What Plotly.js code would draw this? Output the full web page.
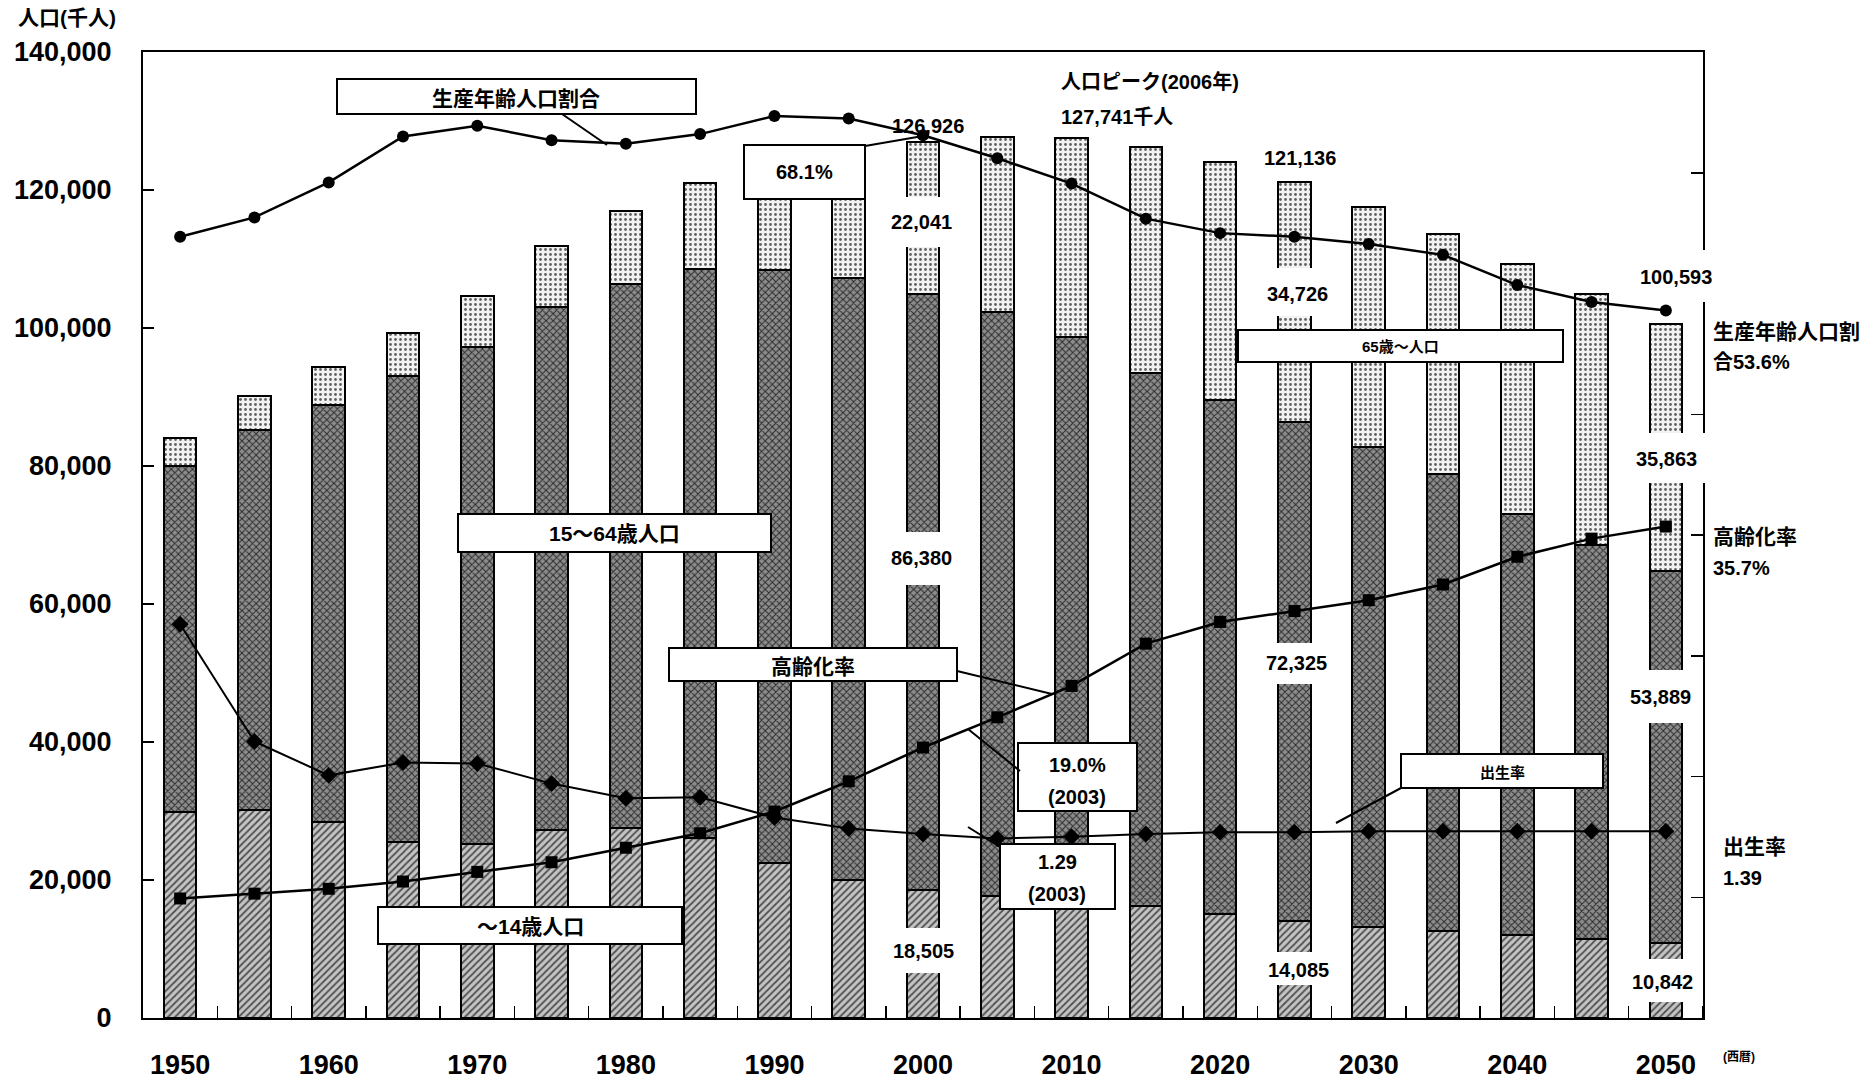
<!DOCTYPE html>
<html>
<head>
<meta charset="utf-8">
<script src="https://cdn.plot.ly/plotly-3.0.1.min.js"></script>
<style>html,body{margin:0;padding:0;background:#fff;}#chart{width:1873px;height:1088px;}</style>
</head>
<body>
<div id="chart"></div>
<script>
// ---- data (thousand persons / rates) ----
const years = [1950,1955,1960,1965,1970,1975,1980,1985,1990,1995,2000,2005,2010,2015,2020,2025,2030,2035,2040,2045,2050];
const pop0to14 = [29786,30123,28434,25529,25153,27221,27507,26033,22486,20014,18505,17727,17074,16197,15095,14085,13233,12567,11966,11411,10842];
const pop15to64 = [50168,55167,60469,67444,72119,75807,78835,82506,85904,87165,86380,84590,81665,77296,74453,72325,69576,66298,61040,57128,53889];
const pop65plus = [4155,4786,5398,6236,7393,8865,10647,12468,14895,18261,22041,25392,28735,32772,34559,34726,34770,34737,36332,36421,35863];
const workingAgeRatio = [59.7,61.3,64.2,68.0,68.9,67.7,67.4,68.2,69.7,69.5,68.1,66.2,64.1,61.2,60.0,59.7,59.1,58.2,55.7,54.3,53.6];
const agingRate = [4.9,5.3,5.7,6.3,7.1,7.9,9.1,10.3,12.1,14.6,17.4,19.9,22.5,26.0,27.8,28.7,29.6,30.9,33.2,34.7,35.7];
const fertilityRate = [3.65,2.37,2.00,2.14,2.13,1.91,1.75,1.76,1.54,1.42,1.36,1.31,1.33,1.36,1.38,1.38,1.39,1.39,1.39,1.39,1.39];
const xTickYears = [1950,1960,1970,1980,1990,2000,2010,2020,2030,2040,2050];

// ---- geometry helpers (pixel -> paper) ----
const L=143, R=1703, T=52, B=1018;
const px = x => (x-L)/(R-L);
const py = y => (B-y)/(B-T);
const NUM = "'Liberation Sans','Noto Sans CJK JP',Arial,sans-serif";
const JP = "'Noto Sans CJK JP','Liberation Sans',sans-serif";

function box(x0,y0,x1,y1){return {type:'rect',xref:'paper',yref:'paper',x0:px(x0),x1:px(x1),y0:py(y1),y1:py(y0),fillcolor:'white',line:{color:'black',width:2},layer:'above'};}
function bg(x0,y0,x1,y1){return {type:'rect',xref:'paper',yref:'paper',x0:px(x0),x1:px(x1),y0:py(y1),y1:py(y0),fillcolor:'white',line:{width:0},layer:'above'};}
function seg(x0,y0,x1,y1){return {type:'line',xref:'paper',yref:'paper',x0:px(x0),x1:px(x1),y0:py(y0),y1:py(y1),line:{color:'black',width:2},layer:'above'};}
function txt(t,x,y,size,anchor,fam){return {text:t,xref:'paper',yref:'paper',x:px(x),y:py(y),xanchor:anchor||'center',yanchor:'middle',showarrow:false,font:{family:fam||NUM,size:size,color:'black',weight:'bold'}};}

const barW = 2.2;
const traces = [
  {type:'bar',x:years,y:pop0to14,width:barW,name:'～14歳人口',
   marker:{color:'#bbb',line:{color:'black',width:2},pattern:{shape:'/',bgcolor:'#c4c4c4',fgcolor:'#505050',size:5,solidity:0.35}},hoverinfo:'y'},
  {type:'bar',x:years,y:pop15to64,width:barW,name:'15～64歳人口',
   marker:{color:'#666',line:{color:'black',width:2},pattern:{shape:'x',bgcolor:'#8c8c8c',fgcolor:'#2a2a2a',size:5,solidity:0.35}},hoverinfo:'y'},
  {type:'bar',x:years,y:pop65plus,width:barW,name:'65歳～人口',
   marker:{color:'#eee',line:{color:'black',width:2},pattern:{shape:'.',bgcolor:'#f2f2f2',fgcolor:'#606060',size:5,solidity:0.25}},hoverinfo:'y'},
  {type:'scatter',mode:'lines+markers',x:years,y:workingAgeRatio,yaxis:'y2',name:'生産年齢人口割合',
   line:{color:'black',width:2.5},marker:{symbol:'circle',size:12,color:'black'}},
  {type:'scatter',mode:'lines+markers',x:years,y:agingRate,yaxis:'y2',name:'高齢化率',
   line:{color:'black',width:2.5},marker:{symbol:'square',size:12,color:'black'}},
  {type:'scatter',mode:'lines+markers',x:years,y:fertilityRate,yaxis:'y3',name:'出生率',
   line:{color:'black',width:2},marker:{symbol:'diamond',size:13,color:'black'}}
];

const shapes = [
  // white gaps behind value labels
  bg(886,197,958,247), bg(884,532,958,585), bg(886,928,960,973),
  bg(1262,268,1334,316), bg(1260,643,1334,684), bg(1262,952,1334,985),
  bg(1634,250,1716,302), bg(1626,433,1708,483), bg(1624,670,1698,723), bg(1626,959,1700,1002),
  // callout boxes
  box(337,79,696,114), box(744,145,865,199), box(458,514,771,552), box(669,648,957,681),
  box(1018,743,1137,811), box(1000,844,1115,909), box(378,907,682,944),
  box(1238,330,1563,362), box(1401,754,1603,788),
  // leader lines
  seg(562,114,607,145), seg(865,146,923,136), seg(957,671,1052,694),
  seg(968,729,1020,771), seg(968,827,1000,847), seg(1401,788,1336,823)
];

const annotations = [
  txt('人口(千人)',16,18,21,'left'),
  txt('(西暦)',1721,1057,12,'left'),
  txt('生産年齢人口割合',516,97,21,'center',JP),
  txt('68.1%',804,172,20),
  txt('15～64歳人口',614,533,21),
  txt('高齢化率',813,665,21,'center',JP),
  txt('19.0%',1077,765,20),
  txt('(2003)',1077,797,20),
  txt('1.29',1057,862,20),
  txt('(2003)',1057,894,20),
  txt('～14歳人口',530,926,21),
  txt('65歳～人口',1400,346,15),
  txt('出生率',1502,771,15,'center',JP),
  txt('人口ピーク(2006年)',1059,82,20,'left'),
  txt('127,741千人',1059,117,20,'left'),
  txt('126,926',928,126,20),
  txt('22,041',921,222,20),
  txt('86,380',921,558,20),
  txt('18,505',923,951,20),
  txt('121,136',1300,158,20),
  txt('34,726',1297,294,20),
  txt('72,325',1296,663,20),
  txt('14,085',1298,970,20),
  txt('100,593',1676,277,20),
  txt('35,863',1666,459,20),
  txt('53,889',1660,697,20),
  txt('10,842',1662,982,20),
  txt('生産年齢人口割',1711,330,21,'left',JP),
  txt('合53.6%',1711,362,20,'left'),
  txt('高齢化率',1711,535,21,'left',JP),
  txt('35.7%',1711,568,20,'left'),
  txt('出生率',1721,845,21,'left',JP),
  txt('1.39',1721,878,20,'left')
];

const layout = {
  width:1873,height:1088,
  margin:{l:L,r:1873-R,t:T,b:1088-B,pad:0},
  paper_bgcolor:'white',plot_bgcolor:'white',
  showlegend:false,barmode:'stack',
  font:{family:NUM,color:'black'},
  xaxis:{type:'linear',range:[1947.5,2052.5],tickmode:'array',tickvals:xTickYears,ticktext:xTickYears.map(String),
    ticks:'',showgrid:false,zeroline:false,showline:true,linecolor:'black',linewidth:2,mirror:true,
    tickfont:{family:NUM,size:27,color:'black',weight:'bold'},ticklabelstandoff:22,automargin:false,
    minor:{tickmode:'array',tickvals:years.map(v=>v+2.5),ticks:'inside',ticklen:12,tickwidth:1.5,tickcolor:'black',showgrid:false}},
  yaxis:{range:[0,140000],dtick:20000,tick0:0,tickformat:',d',ticks:'inside',ticklen:11,tickwidth:1.5,tickcolor:'black',
    showgrid:false,zeroline:false,showline:true,linecolor:'black',linewidth:2,
    tickfont:{family:NUM,size:27,color:'black',weight:'bold'},ticklabelstandoff:24,automargin:false},
  yaxis2:{overlaying:'y',side:'right',range:[-5,75],tick0:5,dtick:10,ticks:'inside',ticklen:12,tickwidth:1.5,tickcolor:'black',
    showticklabels:false,showgrid:false,zeroline:false,showline:true,linecolor:'black',linewidth:2,automargin:false},
  yaxis3:{overlaying:'y',side:'right',range:[-0.65,9.9],visible:false,showgrid:false,zeroline:false},
  shapes:shapes,annotations:annotations
};

Plotly.newPlot('chart',traces,layout,{displayModeBar:false,staticPlot:true});
</script>
</body>
</html>
